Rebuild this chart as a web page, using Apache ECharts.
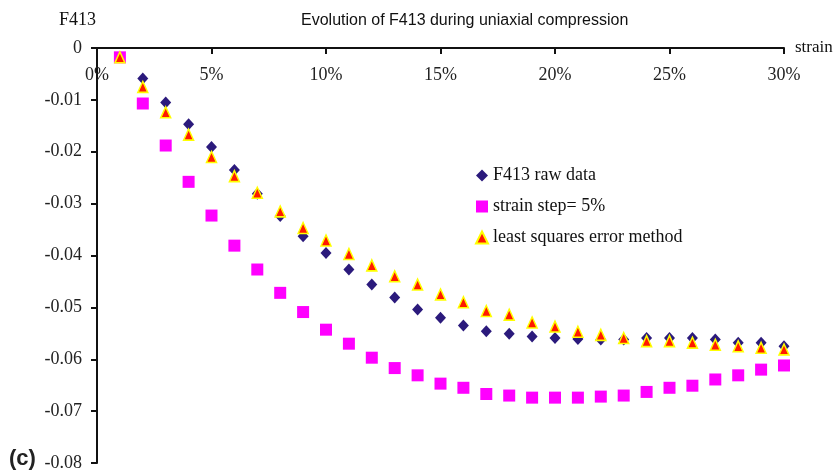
<!DOCTYPE html>
<html>
<head>
<meta charset="utf-8">
<title>Evolution of F413 during uniaxial compression</title>
<script src="https://cdn.jsdelivr.net/npm/echarts@6/dist/echarts.min.js"></script>
<style>
  html, body { margin: 0; padding: 0; background: #ffffff; }
  #chart { width: 837px; height: 472px; }
</style>
</head>
<body>
<div id="chart"></div>
<script>
// Strain levels (%) at which F413 was evaluated
const strain = [1, 2, 3, 4, 5, 6, 7, 8, 9, 10,
                11, 12, 13, 14, 15, 16, 17, 18, 19, 20,
                21, 22, 23, 24, 25, 26, 27, 28, 29, 30];

// F413 raw data
const rawData = [-0.0018, -0.0059, -0.0105, -0.0147, -0.0191, -0.0235, -0.0281, -0.0324, -0.0363, -0.0395,
                 -0.0427, -0.0456, -0.0481, -0.0504, -0.0520, -0.0535, -0.0546, -0.0551, -0.0556, -0.0559,
                 -0.0561, -0.0562, -0.0562, -0.0559, -0.0559, -0.0559, -0.0562, -0.0568, -0.0568, -0.0575];

// strain step = 5%
const stepData = [-0.0018, -0.0107, -0.0188, -0.0258, -0.0323, -0.0381, -0.0427, -0.0472, -0.0509, -0.0543,
                  -0.0570, -0.0597, -0.0617, -0.0631, -0.0647, -0.0655, -0.0667, -0.0670, -0.0674, -0.0674,
                  -0.0674, -0.0672, -0.0670, -0.0663, -0.0655, -0.0651, -0.0639, -0.0631, -0.0620, -0.0612];

// least squares error method
const lsqData = [-0.0018, -0.0075, -0.0124, -0.0167, -0.0210, -0.0247, -0.0279, -0.0315, -0.0347, -0.0371,
                 -0.0397, -0.0419, -0.0440, -0.0456, -0.0475, -0.0490, -0.0507, -0.0514, -0.0529, -0.0537,
                 -0.0547, -0.0553, -0.0559, -0.0565, -0.0565, -0.0568, -0.0572, -0.0575, -0.0578, -0.0581];

const seriesNames = ['F413 raw data', 'strain step= 5%', 'least squares error method'];

const pair = (vals) => strain.map((s, i) => [s, vals[i]]);

const serif = 'Liberation Serif';
const chart = echarts.init(document.getElementById('chart'), null, { renderer: 'canvas' });

chart.setOption({
  backgroundColor: '#ffffff',
  animation: false,
  title: {
    text: 'Evolution of F413 during uniaxial compression',
    left: 296,
    top: 8,
    textStyle: { fontFamily: 'Liberation Sans', fontSize: 16, fontWeight: 'normal', color: '#111' }
  },
  legend: {
    orient: 'vertical',
    left: 470,
    top: 161,
    itemGap: 12,
    itemWidth: 12,
    itemHeight: 12,
    textStyle: { fontFamily: serif, fontSize: 18, color: '#111', lineHeight: 19 },
    data: [
      { name: seriesNames[0], icon: 'diamond' },
      { name: seriesNames[1], icon: 'rect' },
      { name: seriesNames[2], icon: 'triangle' }
    ]
  },
  grid: { left: 97, right: 53, top: 48, bottom: 9, containLabel: false, outerBoundsMode: 'none' },
  xAxis: {
    type: 'value',
    position: 'top',
    min: 0,
    max: 30,
    interval: 5,
    name: 'strain',
    nameLocation: 'end',
    nameGap: 11,
    nameTextStyle: { fontFamily: serif, fontSize: 17, color: '#111', padding: [0, 0, 8, 0] },
    axisLine: { onZero: false, lineStyle: { color: '#111', width: 2 } },
    axisTick: { show: true, inside: true, length: 6, lineStyle: { color: '#111', width: 2 } },
    axisLabel: {
      inside: true,
      margin: 18,
      fontFamily: serif,
      fontSize: 18,
      color: '#222',
      formatter: (v) => v + '%'
    },
    splitLine: { show: false }
  },
  yAxis: {
    type: 'value',
    min: -0.08,
    max: 0,
    interval: 0.01,
    name: 'F413',
    nameLocation: 'end',
    nameGap: 19,
    nameTextStyle: { fontFamily: serif, fontSize: 18, color: '#111', align: 'right', padding: [0, 1, 0, 0] },
    axisLine: { onZero: false, lineStyle: { color: '#111', width: 2 } },
    axisTick: { show: true, length: 6, lineStyle: { color: '#111', width: 2 } },
    axisLabel: {
      margin: 15,
      fontFamily: serif,
      fontSize: 18,
      color: '#222',
      formatter: (v) => (Math.abs(v) < 1e-9 ? '0' : v.toFixed(2))
    },
    splitLine: { show: false }
  },
  series: [
    {
      name: seriesNames[0],
      type: 'scatter',
      symbol: 'diamond',
      symbolSize: [11, 12],
      itemStyle: { color: '#2b1a7c', opacity: 1 },
      data: pair(rawData),
      z: 2
    },
    {
      name: seriesNames[1],
      type: 'scatter',
      symbol: 'rect',
      symbolSize: 12,
      itemStyle: { color: '#ff00ff', opacity: 1 },
      data: pair(stepData),
      z: 3
    },
    {
      name: seriesNames[2],
      type: 'scatter',
      symbol: 'triangle',
      symbolSize: [10, 11],
      itemStyle: { color: '#ff1a00', borderColor: '#ffff00', borderWidth: 1.5, opacity: 1 },
      data: pair(lsqData),
      z: 4
    }
  ],
  graphic: [
    {
      type: 'text',
      left: 9,
      top: 448,
      style: {
        text: '(c)',
        fontFamily: 'Liberation Sans',
        fontSize: 22,
        fontWeight: 'bold',
        fill: '#222'
      }
    }
  ]
});
</script>
</body>
</html>
